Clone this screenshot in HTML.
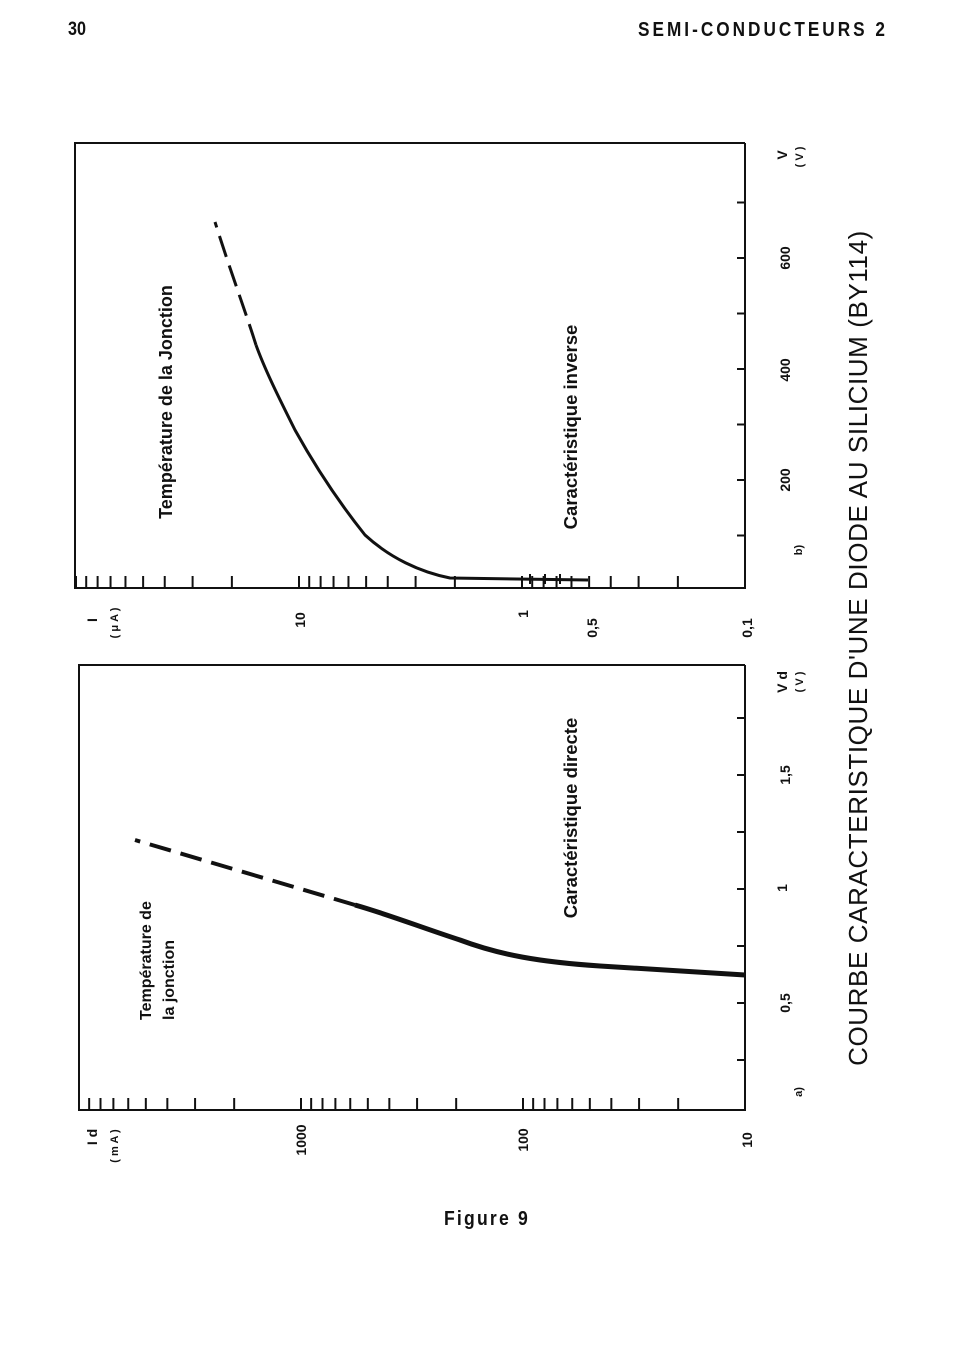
<!DOCTYPE html>
<html><head><meta charset="utf-8"><style>
body{margin:0;background:#fff;}
svg{display:block;}
text{font-family:"Liberation Sans",sans-serif;fill:#111;}
</style></head><body>
<svg id="s" width="964" height="1351" viewBox="0 0 964 1351" xmlns="http://www.w3.org/2000/svg">
<rect width="964" height="1351" fill="#fff"/>
<text x="68" y="35" font-size="19" font-weight="bold" transform="scale(0.85,1)" style="transform-origin:68px 35px">30</text>
<text x="888" y="36" font-size="20" font-weight="bold" text-anchor="end" letter-spacing="3.5" transform="scale(0.86,1)" style="transform-origin:888px 36px">SEMI-CONDUCTEURS 2</text>
<g stroke="#111" fill="none">
<polyline points="745,143 75,143 75,588 745,588 745,143" stroke-width="2"/>
<polyline points="745,665 79,665 79,1110 745,1110 745,665" stroke-width="2"/>
</g>
<g id="ticks" stroke="#111" stroke-width="2"></g>
<path d="M588,580 L450,578 C420,572 390,558 365,535 C345,510 320,475 295,430 C280,400 265,370 256,345" stroke="#111" stroke-width="3" fill="none"/>
<path d="M256,345 C245,310 230,270 215,222" stroke="#111" stroke-width="3" fill="none" stroke-dasharray="22,9"/>
<g stroke="#111" stroke-width="2"><line x1="545" y1="574" x2="545" y2="584"/><line x1="560" y1="574" x2="560" y2="584"/><line x1="530" y1="574" x2="530" y2="584"/></g>
<path d="M745,975 L600,966 C540,962 500,955 460,940 C420,927 390,915 355,905" stroke="#111" stroke-width="5" fill="none"/>
<path d="M355,905 L135,840" stroke="#111" stroke-width="4" fill="none" stroke-dasharray="22,10"/>
<g font-weight="bold">
<text transform="translate(172,402) rotate(-90)" text-anchor="middle" font-size="18">Température de la Jonction</text>
<text transform="translate(577,427) rotate(-90)" text-anchor="middle" font-size="18.5">Caractéristique inverse</text>
<text transform="translate(151,1020) rotate(-90)" font-size="16">Température de</text>
<text transform="translate(174,1020) rotate(-90)" font-size="16">la jonction</text>
<text transform="translate(577,818) rotate(-90)" text-anchor="middle" font-size="18.5">Caractéristique directe</text>
</g>
<g font-size="14" font-weight="bold">
<text transform="translate(752,628) rotate(-90)" text-anchor="middle">0,1</text>
<text transform="translate(597,628) rotate(-90)" text-anchor="middle">0,5</text>
<text transform="translate(528,614) rotate(-90)" text-anchor="middle">1</text>
<text transform="translate(305,620) rotate(-90)" text-anchor="middle">10</text>
<text transform="translate(97,620) rotate(-90)" text-anchor="middle">I</text>
<text transform="translate(118,623) rotate(-90)" text-anchor="middle" font-size="11">( μ A )</text>
<text transform="translate(790,480) rotate(-90)" text-anchor="middle">200</text>
<text transform="translate(790,370) rotate(-90)" text-anchor="middle">400</text>
<text transform="translate(790,258) rotate(-90)" text-anchor="middle">600</text>
<text transform="translate(787,155) rotate(-90)" text-anchor="middle">V</text>
<text transform="translate(803,157) rotate(-90)" text-anchor="middle" font-size="11">( V )</text>
<text transform="translate(802,550) rotate(-90)" text-anchor="middle" font-size="11">b)</text>
<text transform="translate(752,1140) rotate(-90)" text-anchor="middle">10</text>
<text transform="translate(528,1140) rotate(-90)" text-anchor="middle">100</text>
<text transform="translate(306,1140) rotate(-90)" text-anchor="middle">1000</text>
<text transform="translate(97,1137) rotate(-90)" text-anchor="middle">I d</text>
<text transform="translate(118,1146) rotate(-90)" text-anchor="middle" font-size="11">( m A )</text>
<text transform="translate(790,1003) rotate(-90)" text-anchor="middle">0,5</text>
<text transform="translate(787,888) rotate(-90)" text-anchor="middle">1</text>
<text transform="translate(790,775) rotate(-90)" text-anchor="middle">1,5</text>
<text transform="translate(787,682) rotate(-90)" text-anchor="middle">V d</text>
<text transform="translate(803,682) rotate(-90)" text-anchor="middle" font-size="11">( V )</text>
<text transform="translate(802,1092) rotate(-90)" text-anchor="middle" font-size="11">a)</text>
</g>
<text transform="translate(867,648) rotate(-90)" text-anchor="middle" font-size="26" letter-spacing="0.6">COURBE CARACTERISTIQUE D'UNE DIODE AU SILICIUM (BY114)</text>
<text x="487" y="1225" font-size="20" font-weight="bold" text-anchor="middle" letter-spacing="2.5" transform="scale(0.88,1)" style="transform-origin:487px 1225px">Figure 9</text>
</svg>
<script>
var g=document.getElementById('ticks'),h='';
function L(x1,y1,x2,y2){h+='<line x1="'+x1+'" y1="'+y1+'" x2="'+x2+'" y2="'+y2+'"/>';}
for(var d=0;d<3;d++)for(var m=1;m<10;m++){var v=m*Math.pow(10,d-1);var x=745-223*Math.log10(v/0.1);if(x<76)continue;L(x,588,x,576);}
L(76,588,76,576);
for(var i=1;i<=7;i++){var y=591-55.5*i;L(745,y,737,y);}
for(var d=0;d<3;d++)for(var m=1;m<10;m++){var v=m*Math.pow(10,d+1);var x=745-222*Math.log10(v/10);if(x<80)continue;L(x,1110,x,1098);}
for(var i=-1;i<=5;i++){var y=1003-57*i;L(745,y,737,y);}
g.innerHTML=h;
</script>
</body></html>
